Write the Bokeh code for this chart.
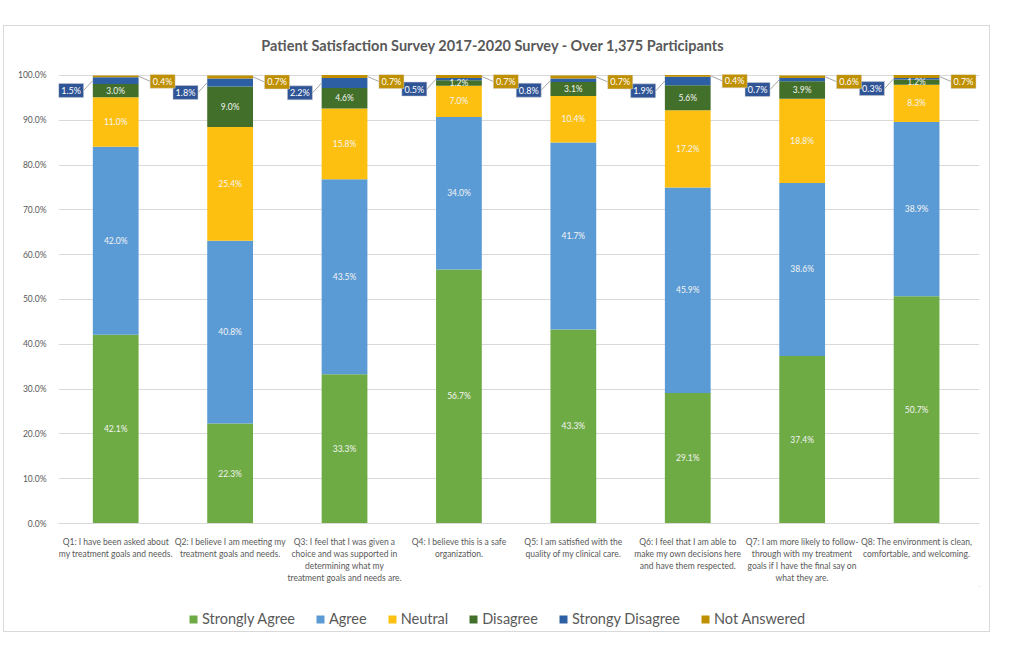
from bokeh.plotting import figure
from bokeh.layouts import column
from bokeh.models import ColumnDataSource, Range1d, FixedTicker, Legend, LegendItem, Label
from bokeh.core.properties import value
from bokeh.embed import file_html
from bokeh.resources import INLINE

# ---------------- data ----------------
categories = ["Q1", "Q2", "Q3", "Q4", "Q5", "Q6", "Q7", "Q8"]
category_labels = [
    "Q1: I have been asked about\nmy treatment goals and needs.",
    "Q2: I believe I am meeting my\ntreatment goals and needs.",
    "Q3: I feel that I was given a\nchoice and was supported in\ndetermining what my\ntreatment goals and needs are.",
    "Q4: I believe this is a safe\norganization.",
    "Q5: I am satisfied with the\nquality of my clinical care.",
    "Q6: I feel that I am able to\nmake my own decisions here\nand have them respected.",
    "Q7: I am more likely to follow-\nthrough with my treatment\ngoals if I have the final say on\nwhat they are.",
    "Q8: The environment is clean,\ncomfortable, and welcoming.",
]
strongly_agree = [42.1, 22.3, 33.3, 56.7, 43.3, 29.1, 37.4, 50.7]
agree = [42.0, 40.8, 43.5, 34.0, 41.7, 45.9, 38.6, 38.9]
neutral = [11.0, 25.4, 15.8, 7.0, 10.4, 17.2, 18.8, 8.3]
disagree = [3.0, 9.0, 4.6, 1.2, 3.1, 5.6, 3.9, 1.2]
strongly_disagree = [1.5, 1.8, 2.2, 0.5, 0.8, 1.9, 0.7, 0.3]
not_answered = [0.4, 0.7, 0.7, 0.7, 0.7, 0.4, 0.6, 0.7]
series_names = ["Strongly Agree", "Agree", "Neutral", "Disagree", "Strongy Disagree", "Not Answered"]
y_ticks = [0, 10, 20, 30, 40, 50, 60, 70, 80, 90, 100]
y_tick_labels = ["0.0%", "10.0%", "20.0%", "30.0%", "40.0%", "50.0%", "60.0%", "70.0%", "80.0%", "90.0%", "100.0%"]
title_text = "Patient Satisfaction Survey 2017-2020 Survey - Over 1,375 Participants"

colors = ["#6FAB45", "#5B9BD5", "#FDC010", "#426F2A", "#2C5FA3", "#BF8F00"]
box_sd_color = "#2F5597"
box_na_color = "#BF9000"
FONT = "Lato"
GRAY = "#595959"

series = [strongly_agree, agree, neutral, disagree, strongly_disagree, not_answered]
n = len(categories)
xs = list(range(n))


def strip(height):
    f = figure(width=985, height=height, output_backend="svg", toolbar_location=None,
               x_range=Range1d(0, 1), y_range=Range1d(0, 1),
               x_axis_location=None, y_axis_location=None,
               min_border=0, background_fill_color="white", border_fill_color="white")
    f.grid.visible = False
    f.outline_line_color = None
    return f


# title strip (its frame is aligned with the chart frame by the column)
pt = strip(38)
pt.add_layout(Label(x=0.5, y=0.5, x_offset=-26, text=title_text, text_font=FONT,
                    text_font_size="14.5px", text_font_style="bold", text_color=GRAY,
                    text_align="center", text_baseline="middle"))

# main chart
p = figure(width=985, height=522, output_backend="svg", toolbar_location=None,
           x_range=Range1d(-0.5, n - 0.45), y_range=Range1d(0, 100.2),
           min_border_left=54, min_border_right=10, min_border_top=10, min_border_bottom=63,
           background_fill_color="white", border_fill_color="white")
p.outline_line_color = None

p.xgrid.grid_line_color = None
p.ygrid.grid_line_color = "#d9d9d9"
p.ygrid.ticker = FixedTicker(ticks=y_ticks)
p.yaxis.ticker = FixedTicker(ticks=y_ticks)
p.yaxis.major_label_overrides = {t: l for t, l in zip(y_ticks, y_tick_labels)}
p.yaxis.axis_line_color = None
p.yaxis.major_tick_line_color = None
p.yaxis.minor_tick_line_color = None
p.yaxis.major_label_text_font = FONT
p.yaxis.major_label_text_font_size = "8.5px"
p.yaxis.major_label_text_color = GRAY
p.yaxis.major_label_standoff = 6

p.xaxis.ticker = FixedTicker(ticks=xs)
p.xaxis.major_label_overrides = {i: l for i, l in zip(xs, category_labels)}
p.xaxis.axis_line_color = "#d9d9d9"
p.xaxis.major_tick_line_color = None
p.xaxis.minor_tick_line_color = None
p.xaxis.major_label_text_font = FONT
p.xaxis.major_label_text_font_size = "8.5px"
p.xaxis.major_label_text_color = GRAY
p.xaxis.major_label_standoff = 7

# stacked bars
bottoms = [0.0] * n
mids = []
for vals, col in zip(series, colors):
    tops = [b + v for b, v in zip(bottoms, vals)]
    mid = [(b + t) / 2 for b, t in zip(bottoms, tops)]
    src = ColumnDataSource(dict(x=xs, bottom=bottoms, top=tops))
    p.vbar(x="x", bottom="bottom", top="top", width=0.4, source=src,
           fill_color=col, line_color=None)
    mids.append(mid)
    bottoms = tops

# inside labels (first four series)
for k in range(4):
    vals = series[k]
    src = ColumnDataSource(dict(x=xs, y=mids[k], txt=[f"{v:.1f}%" for v in vals]))
    p.text(x="x", y="y", text="txt", source=src, text_color="#f4f4f4",
           text_font=value(FONT), text_font_size="8.5px",
           text_align="center", text_baseline="middle")

# callouts: strongly disagree (left) and not answered (right)
sd_box_y = [m - 2.2 for m in mids[4]]
sd_src = ColumnDataSource(dict(
    bx=[x - 0.39 for x in xs], by=sd_box_y,
    lx0=[x - 0.28 for x in xs], lx1=[x - 0.2 for x in xs], ly1=mids[4],
    txt=[f"{v:.1f}%" for v in strongly_disagree]))
p.segment(x0="lx0", y0="by", x1="lx1", y1="ly1", source=sd_src, line_color="#a6a6a6", line_width=1)
p.rect(x="bx", y="by", width=25, height=14, width_units="screen", height_units="screen",
       source=sd_src, fill_color=box_sd_color, line_color="#d0d0d0", line_width=0.5)
p.text(x="bx", y="by", text="txt", source=sd_src, text_color="white",
       text_font=value(FONT), text_font_size="9px", text_align="center", text_baseline="middle")

na_box_y = [m - 1.1 for m in mids[5]]
na_src = ColumnDataSource(dict(
    bx=[x + 0.41 for x in xs], by=na_box_y,
    lx0=[x + 0.2 for x in xs], lx1=[x + 0.30 for x in xs], ly0=mids[5],
    txt=[f"{v:.1f}%" for v in not_answered]))
p.segment(x0="lx0", y0="ly0", x1="lx1", y1="by", source=na_src, line_color="#a6a6a6", line_width=1)
p.rect(x="bx", y="by", width=25, height=14, width_units="screen", height_units="screen",
       source=na_src, fill_color=box_na_color, line_color="#d0d0d0", line_width=0.5)
p.text(x="bx", y="by", text="txt", source=na_src, text_color="white",
       text_font=value(FONT), text_font_size="9px", text_align="center", text_baseline="middle")

# legend strip below the chart
pl = strip(45)
items = []
for nm, col in zip(series_names, colors):
    # single off-range point so that the legend swatch gets drawn
    r = pl.vbar(x=[5], bottom=[5], top=[6], width=0.1, fill_color=col, line_color=None)
    items.append(LegendItem(label=nm, renderers=[r]))
legend = Legend(items=items, orientation="horizontal", location=(130, 4),
                label_text_font=FONT, label_text_font_size="14.5px", label_text_color=GRAY,
                glyph_width=10, glyph_height=10, label_standoff=4, spacing=20,
                padding=4, margin=0, border_line_color=None, background_fill_alpha=0)
pl.add_layout(legend, "center")

layout = column(pt, p, pl, spacing=0, margin=(25, 0, 0, 3),
                styles={"border": "1px solid #d9d9d9"})

open("out.html", "w").write(file_html(layout, INLINE))
